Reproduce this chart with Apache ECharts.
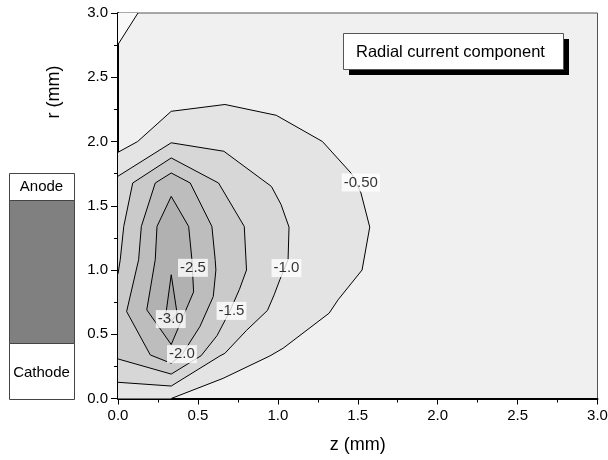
<!DOCTYPE html>
<html><head><meta charset="utf-8">
<script src="https://cdn.jsdelivr.net/npm/echarts@6/dist/echarts.min.js"></script>
<style>html,body{margin:0;padding:0;background:#fff}#c{width:608px;height:460px}</style>
</head><body><div id="c"></div>
<script>
// Contour polylines, [z (mm), r (mm)]
const c000 = [[0,2.755],[0.125,3.0]];
const c000Close = [[0,3]];
const c050 = [[0,1.916],[0.123,2.0],[0.333,2.235],[0.669,2.288],[0.99,2.204],[1.279,2.0],[1.461,1.75],[1.52,1.6],[1.575,1.334],[1.527,1.0],[1.377,0.768],[1.321,0.664],[1.033,0.391],[0.95,0.331],[0.658,0.157],[0.333,0]];
const c050Close = [[0,0]];
const c100 = [[0,1.73],[0.333,1.99],[0.6625,1.924],[0.96,1.65],[1.02,1.51],[1.07,1.334],[1.064,1.08],[1.0125,0.924],[0.977,0.807],[0.935,0.685],[0.804,0.53],[0.669,0.352],[0.6375,0.331],[0.333,0.097],[0,0.126]];
const c100Close = [];
const c150 = [[0,0.97],[0.014,1.08],[0.036,1.339],[0.092,1.677],[0.333,1.872],[0.629,1.677],[0.79,1.339],[0.804,1.0],[0.76,0.85],[0.70,0.68],[0.62,0.49],[0.52,0.333],[0.333,0.19],[0,0.308]];
const c150Close = [];
const c200 = [[0.333,1.755],[0.452,1.677],[0.5875,1.339],[0.608,1.08],[0.6125,1.0],[0.596,0.793],[0.5125,0.56],[0.40,0.34],[0.333,0.274],[0.202,0.339],[0.054,0.677],[0.129,1.08],[0.146,1.339],[0.233,1.677],[0.333,1.755]];
const c200Close = [];
const c250 = [[0.333,1.573],[0.442,1.339],[0.4625,1.08],[0.473,0.83],[0.333,0.42],[0.18,0.69],[0.233,1.08],[0.244,1.339],[0.333,1.573]];
const c250Close = [];
const c300 = [[0.333,0.963],[0.37,0.66],[0.333,0.6],[0.30,0.66],[0.333,0.963]];
const c300Close = [];

const contourLines = [c000, c050, c100, c150, c200, c250, c300];
const contourCloses = [c000Close, c050Close, c100Close, c150Close, c200Close, c250Close, c300Close];
const fillColors = ['#f9f9f9','#e4e4e4','#d7d7d7','#cacaca','#bdbdbd','#b1b1b1','#a6a6a6'];

const labelPos = [[1.519,1.68],[1.054,1.015],[0.71,0.682],[0.40,0.345],[0.469,1.017],[0.33,0.618]];
const labelText = ['-0.50','-1.0','-1.5','-2.0','-2.5','-3.0'];

const FONT = '"Liberation Sans", Arial, sans-serif';
const chart = echarts.init(document.getElementById('c'), null, {renderer:'canvas'});

chart.setOption({
  animation: false,
  backgroundColor: '#fff',
  textStyle: {fontFamily: FONT},
  grid: {left:118, top:13, width:479.5, height:385.5, show:true, backgroundColor:'#f0f0f0', borderColor:'#555', borderWidth:1, outerBoundsMode:'none'},
  xAxis: {
    type:'value', min:0, max:3, interval:0.5,
    axisLine:{show:true, onZero:false, lineStyle:{color:'#000', width:2}},
    axisTick:{show:true, length:6, lineStyle:{color:'#000', width:1}},
    minorTick:{show:true, splitNumber:2, length:4, lineStyle:{color:'#000', width:1}},
    splitLine:{show:false}, minorSplitLine:{show:false},
    axisLabel:{formatter:v=>v.toFixed(1), fontSize:15, color:'#000', margin:10, fontFamily:FONT, showMinLabel:true, showMaxLabel:true},
    name:'z (mm)', nameLocation:'middle', nameGap:38,
    nameTextStyle:{fontSize:18, color:'#000', fontFamily:FONT}
  },
  yAxis: {
    type:'value', min:0, max:3, interval:0.5,
    axisLine:{show:true, onZero:false, lineStyle:{color:'#000', width:2}},
    axisTick:{show:true, length:7, lineStyle:{color:'#000', width:1}},
    minorTick:{show:true, splitNumber:2, length:4, lineStyle:{color:'#000', width:1}},
    splitLine:{show:false}, minorSplitLine:{show:false},
    axisLabel:{formatter:v=>v.toFixed(1), fontSize:15, color:'#000', margin:10, fontFamily:FONT, showMinLabel:true, showMaxLabel:true}
  },
  graphic: [
    {type:'text', z:100, x:54, y:92, rotation:Math.PI/2,
     style:{text:'r (mm)', font:'18px '+FONT, fill:'#000', textAlign:'center', textVerticalAlign:'middle'}},
    {type:'rect', z:100, shape:{x:349, y:39, width:220, height:36}, style:{fill:'#000'}},
    {type:'rect', z:101, shape:{x:343.5, y:33.5, width:220, height:36}, style:{fill:'#fff', stroke:'#555', lineWidth:1}},
    {type:'text', z:102, x:356, y:52, style:{text:'Radial current component', font:'16.5px '+FONT, fill:'#000', textAlign:'left', textVerticalAlign:'middle'}},
    {type:'rect', z:100, shape:{x:9.5, y:173.5, width:65, height:27}, style:{fill:'#fff', stroke:'#444', lineWidth:1}},
    {type:'rect', z:100, shape:{x:9.5, y:200.5, width:65, height:143}, style:{fill:'#808080', stroke:'#444', lineWidth:1}},
    {type:'rect', z:100, shape:{x:9.5, y:343.5, width:65, height:56}, style:{fill:'#fff', stroke:'#444', lineWidth:1}},
    {type:'text', z:101, x:41.5, y:187, style:{text:'Anode', font:'15px '+FONT, fill:'#000', textAlign:'center', textVerticalAlign:'middle'}},
    {type:'text', z:101, x:41.5, y:372.5, style:{text:'Cathode', font:'15px '+FONT, fill:'#000', textAlign:'center', textVerticalAlign:'middle'}}
  ],
  series: [
    {
      type:'custom', clip:false, z:2,
      data: contourLines.map(l => l[0]),
      renderItem: function(params, api){
        const i = params.dataIndex;
        const line = contourLines[i].map(p => api.coord(p));
        const poly = line.concat(contourCloses[i].map(p => api.coord(p)));
        return {type:'group', children:[
          {type:'polygon', shape:{points:poly}, style:{fill:fillColors[i], stroke:null, lineWidth:0}},
          {type:'polyline', shape:{points:line}, style:{stroke:'#000', lineWidth:1, fill:null}}
        ]};
      }
    },
    {
      type:'scatter', z:5, symbolSize:0, silent:true,
      data: labelPos.map((p,i) => [p[0], p[1], labelText[i]]),
      label:{show:true, position:'inside', formatter:p=>p.value[2], color:'#000', fontSize:15, fontFamily:FONT,
             backgroundColor:'#fff', padding:[1,2,1,2], lineHeight:16}
    }
  ]
});
</script>
</body></html>
